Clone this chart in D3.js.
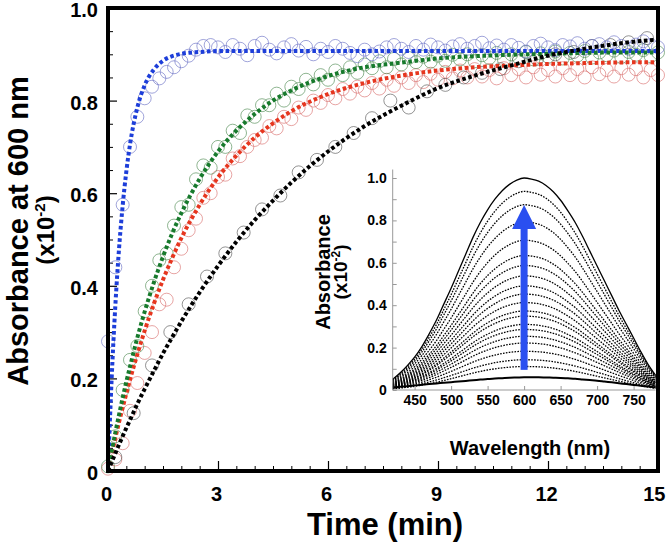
<!DOCTYPE html>
<html><head><meta charset="utf-8">
<script src="https://cdn.jsdelivr.net/npm/d3@7"></script>
<style>
html,body{margin:0;padding:0;background:#fff;}
svg{display:block;font-family:"Liberation Sans",Arial,Helvetica,sans-serif;font-weight:bold;}
</style></head><body>
<svg id="chart" width="666" height="544"></svg>
<script>
// ---------- main panel: kinetic traces (Absorbance at 600 nm vs time) ----------
const fitTime  = [0,0.1,0.2,0.3,0.4,0.5,0.6,0.8,1.0,1.25,1.5,1.75,2.0,2.5,3.0,3.5,4,4.5,5,6,7,8,9,10,11,12,13,14,15];
const fitBlue  = [0,0.2,0.357,0.479,0.573,0.647,0.705,0.785,0.833,0.867,0.886,0.896,0.901,0.905,0.907,0.907,0.907,0.907,0.907,0.907,0.907,0.907,0.907,0.907,0.907,0.907,0.907,0.907,0.907];
const fitGreen = [0,0.042,0.083,0.121,0.158,0.193,0.225,0.288,0.344,0.407,0.463,0.513,0.557,0.631,0.69,0.735,0.771,0.80,0.822,0.853,0.872,0.882,0.891,0.896,0.899,0.901,0.903,0.904,0.904];
const fitRed   = [0,0.036,0.071,0.105,0.137,0.167,0.197,0.252,0.303,0.361,0.413,0.46,0.503,0.575,0.634,0.681,0.72,0.751,0.777,0.814,0.838,0.854,0.865,0.872,0.876,0.879,0.881,0.8825,0.883];
const fitBlack = [0,0.019,0.038,0.057,0.075,0.093,0.11,0.145,0.177,0.216,0.254,0.289,0.323,0.386,0.443,0.495,0.542,0.584,0.623,0.69,0.745,0.789,0.827,0.854,0.876,0.897,0.912,0.924,0.932];

const obsTime = [0,0.2,0.4,0.6,0.8,1.0,1.2,1.4,1.6,1.8,
                 2.0,2.2,2.4,2.6,2.8,3.0,3.2,3.4,3.6,3.8,
                 4.0,4.2,4.4,4.6,4.8,5.0,5.2,5.4,5.6,5.8,
                 6.0,6.2,6.4,6.6,6.8,7.0,7.2,7.4,7.6,7.8,
                 8.0,8.2,8.4,8.6,8.8,9.0,9.2,9.4,9.6,9.8,
                 10.0,10.2,10.4,10.6,10.8,11.0,11.2,11.4,11.6,11.8,
                 12.0,12.2,12.4,12.6,12.8,13.0,13.2,13.4,13.6,13.8,
                 14.0,14.2,14.4,14.6,14.8,15.0];
const obsBlue = [0.28,0.44,0.575,0.70,0.765,0.805,0.83,0.848,0.862,0.872,
                 0.885,0.897,0.91,0.918,0.92,0.915,0.905,0.92,0.912,0.898,
                 0.918,0.925,0.91,0.902,0.915,0.922,0.908,0.916,0.90,0.912,
                 0.905,0.918,0.912,0.903,0.896,0.91,0.90,0.906,0.915,0.92,
                 0.912,0.905,0.918,0.91,0.921,0.915,0.908,0.917,0.922,0.912,
                 0.918,0.925,0.913,0.919,0.91,0.92,0.914,0.906,0.918,0.923,
                 0.915,0.909,0.92,0.917,0.924,0.912,0.918,0.922,0.915,0.926,
                 0.918,0.912,0.921,0.928,0.92,0.915];
const obsGreen = [0.01,0.075,0.175,0.24,0.27,0.345,0.40,0.455,0.47,0.53,
                  0.57,0.575,0.63,0.66,0.655,0.70,0.70,0.735,0.73,0.768,
                  0.765,0.79,0.79,0.815,0.80,0.83,0.825,0.845,0.835,0.855,
                  0.845,0.865,0.855,0.872,0.86,0.878,0.87,0.885,0.872,0.89,
                  0.878,0.892,0.883,0.895,0.884,0.897,0.886,0.899,0.889,0.90,
                  0.885,0.898,0.892,0.903,0.888,0.90,0.893,0.905,0.889,0.902,
                  0.895,0.906,0.891,0.903,0.897,0.907,0.893,0.904,0.898,0.908,
                  0.894,0.905,0.899,0.909,0.896,0.904];
const obsRed = [0.005,0.025,0.06,0.13,0.19,0.255,0.30,0.36,0.37,0.44,
                0.48,0.52,0.545,0.59,0.60,0.635,0.64,0.675,0.68,0.70,
                0.715,0.72,0.745,0.74,0.765,0.76,0.785,0.78,0.80,0.795,
                0.812,0.805,0.825,0.815,0.83,0.822,0.838,0.826,0.845,0.832,
                0.85,0.838,0.855,0.84,0.858,0.845,0.862,0.848,0.865,0.85,
                0.868,0.852,0.866,0.848,0.87,0.855,0.868,0.85,0.872,0.856,
                0.866,0.852,0.87,0.855,0.868,0.85,0.872,0.857,0.866,0.852,
                0.87,0.856,0.868,0.85,0.866,0.855];
const obsTimeBlack = [0.2,0.7,1.2,1.7,2.2,2.7,3.2,3.7,4.2,4.7,5.2,5.7,6.2,6.7,7.2,7.7,8.2,8.7,9.2,9.7,10.2,10.7,11.2,11.7,12.2,12.7,13.2,13.7,14.2,14.7];
const obsBlack = [0.03,0.125,0.228,0.30,0.36,0.42,0.47,0.515,0.565,0.595,0.645,0.672,0.70,0.73,0.762,0.80,0.785,0.82,0.834,0.85,0.86,0.868,0.885,0.89,0.90,0.905,0.918,0.92,0.926,0.935];

const xTickValues = [0,3,6,9,12,15];
const xTickLabels = ["0","3","6","9","12","15"];
const yTickValues = [0,0.2,0.4,0.6,0.8,1.0];
const yTickLabels = ["0","0.2","0.4","0.6","0.8","1.0"];

// ---------- inset: spectra ----------
const wavelengths = [420,430,440,450,460,470,480,490,500,510,520,530,540,550,560,570,580,590,600,
                     610,620,630,640,650,660,670,680,690,700,710,720,730,740,750,760,770,780];
const spectrumFinal = [0.05,0.08,0.115,0.155,0.205,0.265,0.33,0.405,0.48,0.56,0.64,0.72,0.79,0.85,0.90,0.94,0.97,0.99,1.0,
                       0.995,0.985,0.965,0.935,0.895,0.845,0.79,0.725,0.655,0.585,0.515,0.445,0.375,0.31,0.245,0.18,0.12,0.07];
const spectrumInitial = [0.012,0.015,0.018,0.021,0.025,0.028,0.031,0.034,0.037,0.040,0.043,0.046,0.049,0.052,0.054,0.056,0.058,0.059,0.060,
                         0.060,0.060,0.059,0.058,0.057,0.055,0.053,0.050,0.047,0.044,0.040,0.036,0.032,0.028,0.024,0.020,0.016,0.012];
const spectrumPeaks = [0.937,0.874,0.794,0.707,0.635,0.588,0.539,0.492,0.453,0.413,0.373,0.349,0.310,0.286,0.254,0.222,0.183,0.143,0.111];
const insetXTicks = [450,500,550,600,650,700,750];
const insetXLabels = ["450","500","550","600","650","700","750"];
const insetYTicks = [0,0.2,0.4,0.6,0.8,1.0];
const insetYLabels = ["0","0.2","0.4","0.6","0.8","1.0"];
const arrowWavelength = 600, arrowFrom = 0.095, arrowTo = 0.873;

// ---------- drawing ----------
const svg = d3.select("#chart");
const x = d3.scaleLinear().domain([0,15]).range([108,658]);
const y = d3.scaleLinear().domain([0,1]).range([471,8]);

function styleAxis(g, size){
  g.select(".domain").remove();
  g.selectAll("text").attr("font-family",null).attr("font-size",size).attr("font-weight","bold").attr("fill","#000");
  g.attr("font-family",null).attr("font-size",null);
}

// minor/major ticks main
const xMinor = d3.range(0,15.01,0.5).filter(v=>xTickValues.indexOf(v)<0);
const yMinor = d3.range(0,1.001,0.05).map(v=>+v.toFixed(2)).filter(v=>yTickValues.indexOf(v)<0);
svg.append("g").attr("transform","translate(0,471)")
  .call(d3.axisBottom(x).tickValues(xMinor).tickSize(-5).tickFormat(""))
  .call(g=>{g.select(".domain").remove(); g.selectAll("line").attr("stroke","#000").attr("stroke-width",1);});
svg.append("g").attr("transform","translate(0,471)")
  .call(d3.axisBottom(x).tickValues(xTickValues).tickSize(-10).tickFormat(""))
  .call(g=>{g.select(".domain").remove(); g.selectAll("line").attr("stroke","#000").attr("stroke-width",1.2);});
svg.append("g").attr("transform","translate(108,0)")
  .call(d3.axisLeft(y).tickValues(yMinor).tickSize(-5).tickFormat(""))
  .call(g=>{g.select(".domain").remove(); g.selectAll("line").attr("stroke","#000").attr("stroke-width",1);});
svg.append("g").attr("transform","translate(108,0)")
  .call(d3.axisLeft(y).tickValues(yTickValues).tickSize(-9).tickFormat(""))
  .call(g=>{g.select(".domain").remove(); g.selectAll("line").attr("stroke","#000").attr("stroke-width",1.2);});

// tick labels
svg.append("g").attr("transform","translate(0,471)")
  .call(d3.axisBottom(x).tickValues(xTickValues).tickSize(0).tickPadding(16).tickFormat((d,i)=>xTickLabels[i]))
  .call(g=>styleAxis(g,"20px"))
  .call(g=>{
    g.selectAll("text").attr("dx",-2);
    g.selectAll(".tick").filter((d,i,n)=>i===n.length-1).select("text").attr("text-anchor","end").attr("dx",7);
  });
svg.append("g").attr("transform","translate(108,2)")
  .call(d3.axisLeft(y).tickValues(yTickValues).tickSize(0).tickPadding(10).tickFormat((d,i)=>yTickLabels[i]))
  .call(g=>styleAxis(g,"20px"));

// ---------- inset ----------
const xi = d3.scaleLinear().domain([420,780]).range([392.7,655.5]);
const yi = d3.scaleLinear().domain([0,1]).range([390,178]);
const insetLine = d3.line().x((d,i)=>xi(wavelengths[i])).y(d=>yi(d)).curve(d3.curveMonotoneX);
const gi = svg.append("g");
spectrumPeaks.forEach(p=>{
  gi.append("path").attr("d", insetLine(spectrumFinal.map(v=>v*p)))
    .attr("fill","none").attr("stroke","#000").attr("stroke-width",1.3).attr("stroke-dasharray","1.6,1.3");
});
gi.append("path").attr("d",insetLine(spectrumFinal)).attr("fill","none").attr("stroke","#000").attr("stroke-width",1.3);
gi.append("path").attr("d",insetLine(spectrumInitial)).attr("fill","none").attr("stroke","#000").attr("stroke-width",2);

// inset axes
gi.append("line").attr("x1",xi(420)).attr("x2",xi(420)).attr("y1",yi(0)).attr("y2",yi(1.04)).attr("stroke","#999").attr("stroke-width",1);
gi.append("line").attr("x1",xi(420)).attr("x2",xi(780)).attr("y1",yi(0)).attr("y2",yi(0)).attr("stroke","#999").attr("stroke-width",1);
gi.append("g").attr("transform",`translate(${xi(420)},0)`)
  .call(d3.axisLeft(yi).tickValues(d3.range(0,1.01,0.1)).tickSize(-4).tickFormat(""))
  .call(g=>{g.select(".domain").remove(); g.selectAll("line").attr("stroke","#999");});
gi.append("g").attr("transform",`translate(${xi(420)},0)`)
  .call(d3.axisLeft(yi).tickValues(insetYTicks).tickSize(0).tickPadding(6).tickFormat((d,i)=>insetYLabels[i]))
  .call(g=>styleAxis(g,"14px"));
gi.append("g").attr("transform",`translate(0,${yi(0)})`)
  .call(d3.axisBottom(xi).tickValues(insetXTicks).tickSize(-4).tickFormat(""))
  .call(g=>{g.select(".domain").remove(); g.selectAll("line").attr("stroke","#999");});
gi.append("g").attr("transform",`translate(0,${yi(0)})`)
  .call(d3.axisBottom(xi).tickValues(insetXTicks).tickSize(0).tickPadding(5).tickFormat((d,i)=>insetXLabels[i]))
  .call(g=>styleAxis(g,"14px"));

// arrow
const ax = xi(arrowWavelength), headLen = 24, headW = 24, shaftW = 7;
gi.append("rect").attr("x",ax-shaftW/2).attr("y",yi(arrowTo)+headLen-1).attr("width",shaftW)
  .attr("height",yi(arrowFrom)-yi(arrowTo)-headLen+1).attr("fill","#2a4ff0");
gi.append("path").attr("d",`M${ax},${yi(arrowTo)}L${ax+headW/2},${yi(arrowTo)+headLen}L${ax-headW/2},${yi(arrowTo)+headLen}Z`).attr("fill","#2a4ff0");

// inset labels
gi.append("text").attr("x",530).attr("y",455).attr("text-anchor","middle").attr("font-size","20px").text("Wavelength (nm)");
gi.append("text").attr("transform","translate(330,272) rotate(-90)").attr("text-anchor","middle").attr("font-size","20px").text("Absorbance");
const iyl2 = gi.append("text").attr("transform","translate(347,272) rotate(-90)").attr("text-anchor","middle").attr("font-size","19px");
iyl2.append("tspan").text("(x10");
iyl2.append("tspan").attr("font-size","12px").attr("dy","-7").text("-2");
iyl2.append("tspan").attr("dy","7").text(")");

// ---------- observed circles ----------
const series = [
  {t:obsTime, v:obsRed, stroke:"#d9706e"},
  {t:obsTime, v:obsGreen, stroke:"#4f8a52"},
  {t:obsTimeBlack, v:obsBlack, stroke:"#555"},
  {t:obsTime, v:obsBlue, stroke:"#6a6fc4"}
];
series.forEach(s=>{
  svg.append("g").selectAll("circle").data(s.v).join("circle")
    .attr("cx",(d,i)=>x(s.t[i])).attr("cy",d=>y(d)).attr("r",6.5)
    .attr("fill","none").attr("stroke",s.stroke).attr("stroke-width",0.8).attr("stroke-opacity",0.8);
});

// ---------- fit lines ----------
const fitLine = d3.line().x((d,i)=>x(fitTime[i])).y(d=>y(d)).curve(d3.curveMonotoneX);
[[fitBlue,"#1d3ed9"],[fitRed,"#e6361f"],[fitGreen,"#177a2c"],[fitBlack,"#000"]].forEach(([v,c])=>{
  svg.append("path").attr("d",fitLine(v)).attr("fill","none").attr("stroke",c)
    .attr("stroke-width",4).attr("stroke-dasharray","3.6,2.6");
});

// frame
svg.append("rect").attr("x",108).attr("y",8).attr("width",550).attr("height",463)
  .attr("fill","none").attr("stroke","#000").attr("stroke-width",4);

// axis titles
svg.append("text").attr("x",385).attr("y",535).attr("text-anchor","middle").attr("font-size","31px").text("Time (min)");
svg.append("text").attr("transform","translate(28,231) rotate(-90)").attr("text-anchor","middle").attr("font-size","29px").text("Absorbance at 600 nm");
const yl2 = svg.append("text").attr("transform","translate(54,230) rotate(-90)").attr("text-anchor","middle").attr("font-size","24px");
yl2.append("tspan").text("(x10");
yl2.append("tspan").attr("font-size","15px").attr("dy","-9").text("-2");
yl2.append("tspan").attr("dy","9").text(")");
</script>
</body></html>
